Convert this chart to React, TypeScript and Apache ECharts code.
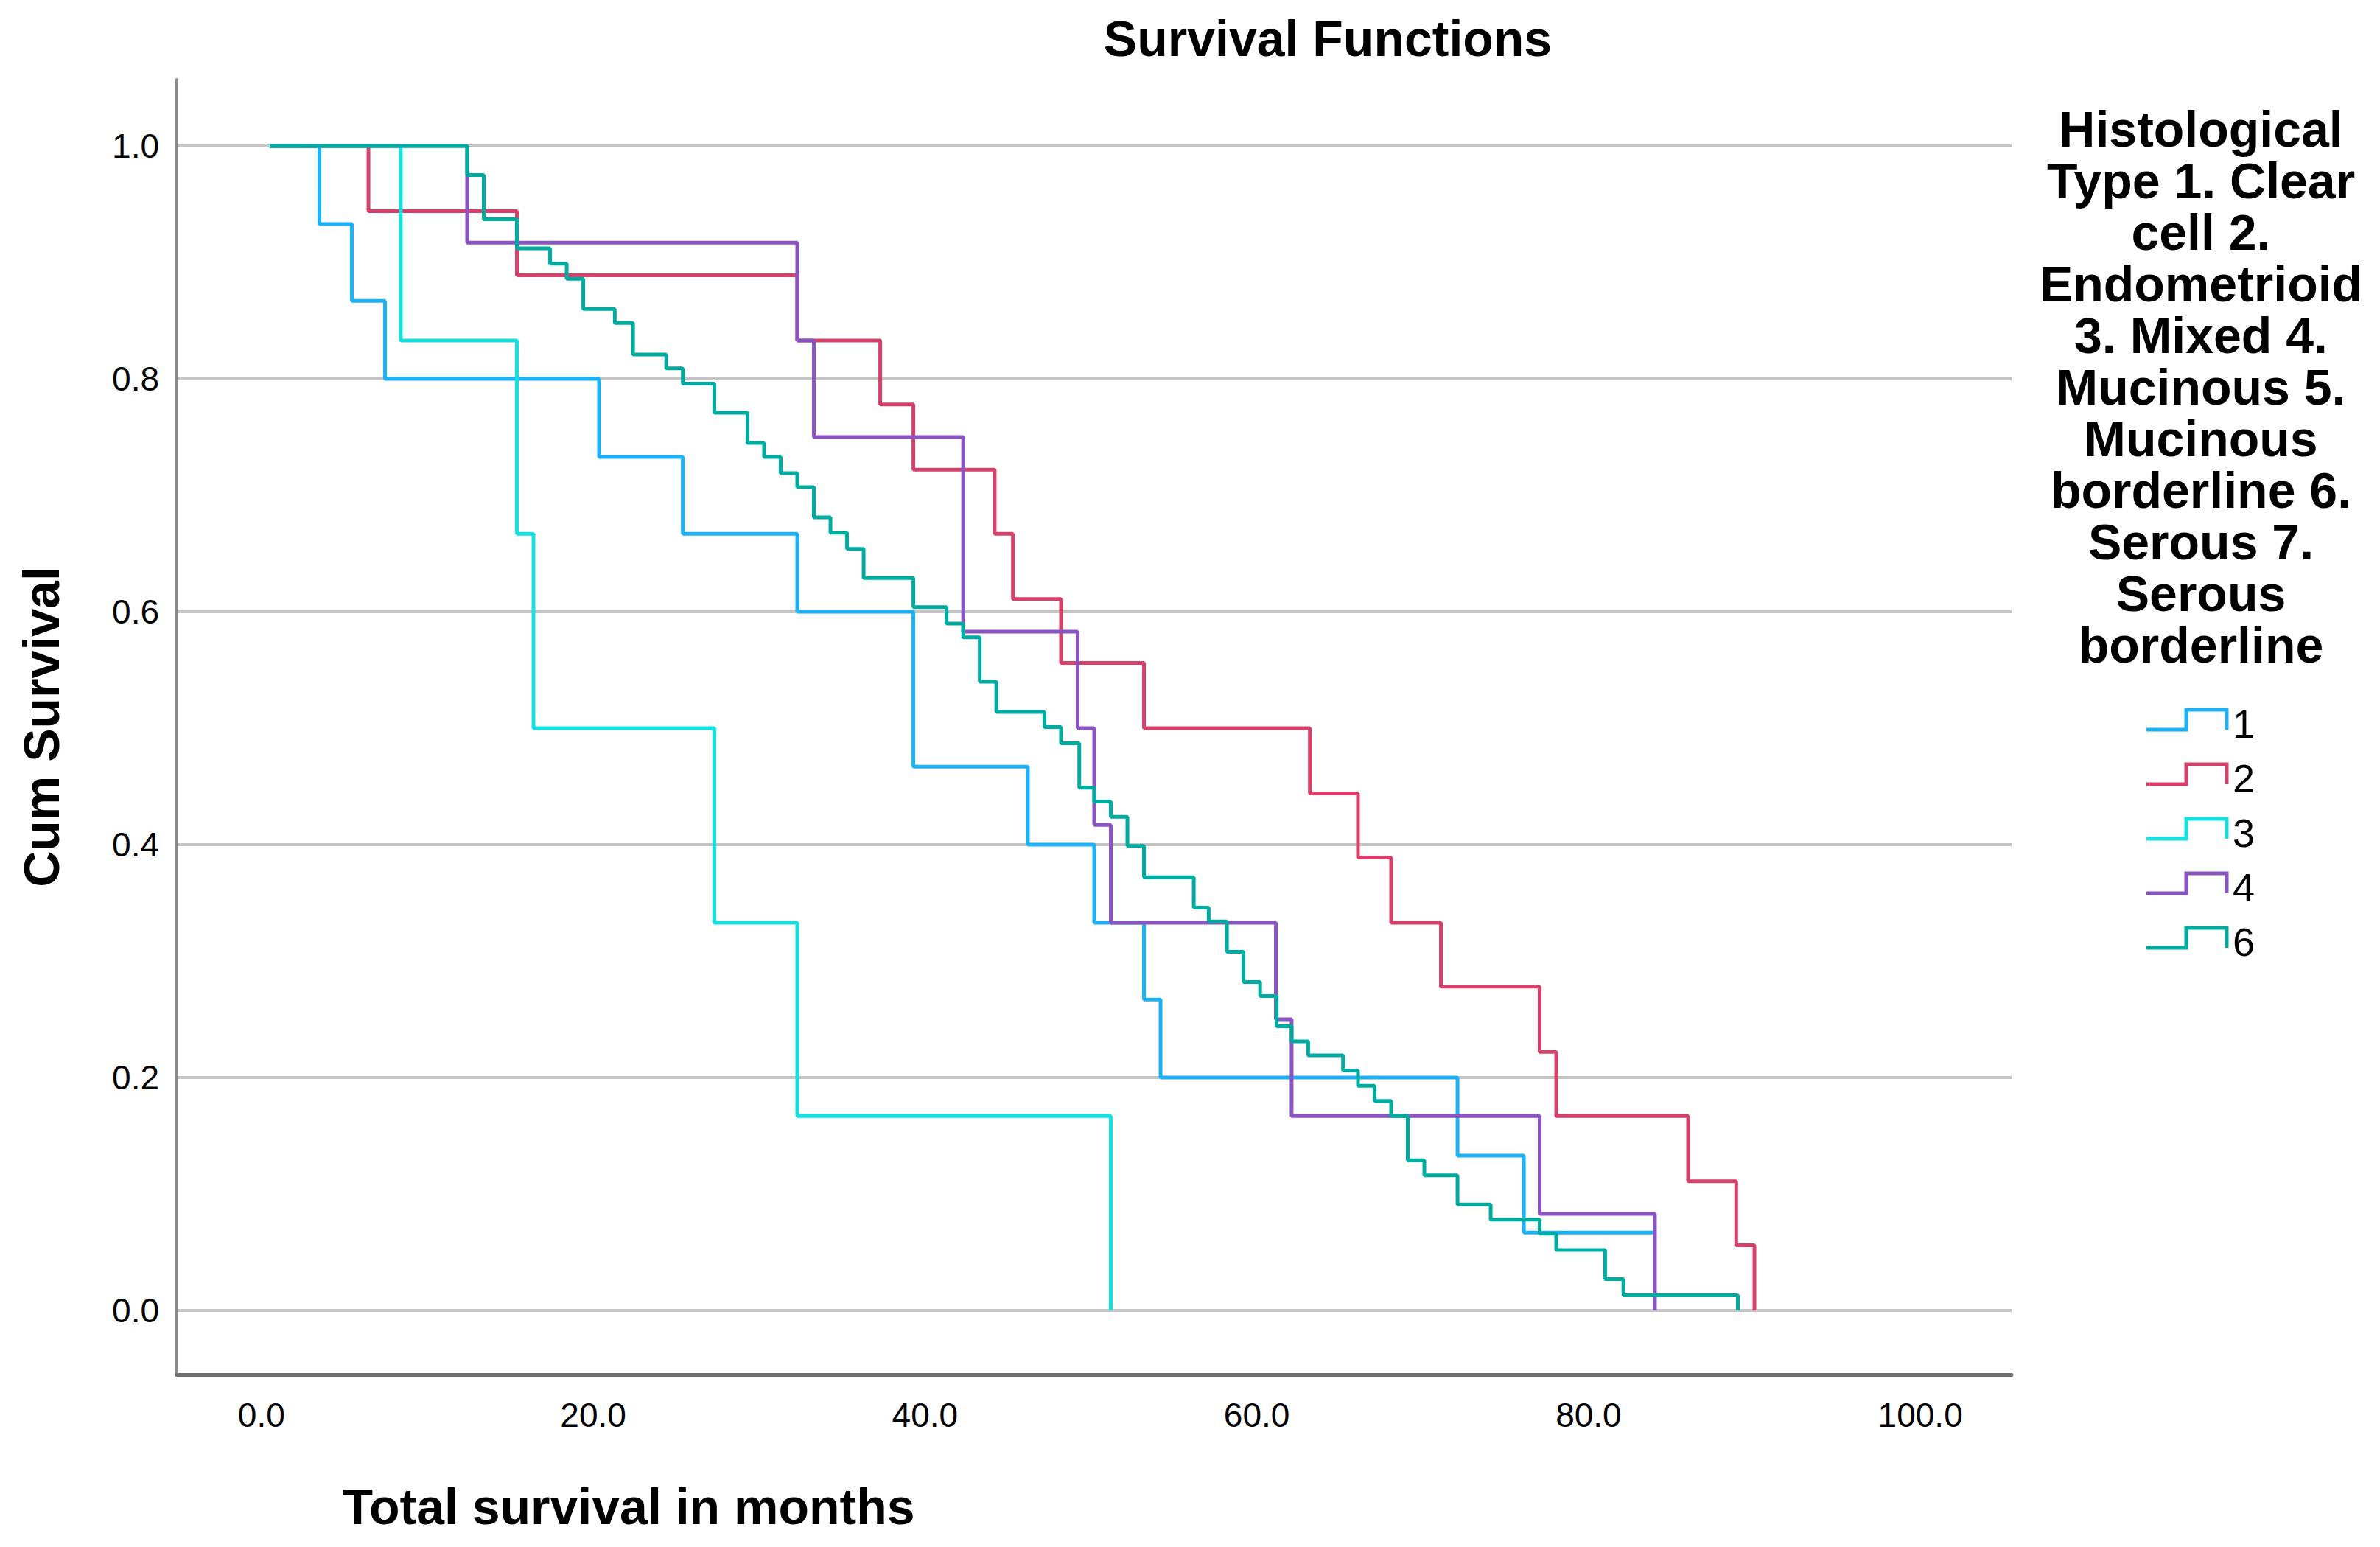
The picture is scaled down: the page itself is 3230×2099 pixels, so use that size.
import React, { useEffect, useRef } from "react";
import * as echarts from "echarts";

const groups = ["1", "2", "3", "4", "6"];
const groupColors = ["#1CB2F6", "#D6416B", "#12E1DF", "#8A55C2", "#00AB9F"];

const times1 = [0.5, 3.5, 5.45, 7.45, 20.35, 25.4, 32.3, 39.3, 46.2, 50.2, 53.2, 54.2, 72.1, 76.1, 83.9];
const surv1 = [1, 0.933, 0.867, 0.8, 0.733, 0.667, 0.6, 0.467, 0.4, 0.333, 0.267, 0.2, 0.133, 0.067, 0.067];

const times2 = [0.5, 6.45, 15.4, 32.3, 37.3, 39.3, 44.2, 45.3, 48.2, 53.2, 63.2, 66.1, 68.1, 71.1, 77.05, 78.05, 86.0, 88.9, 90.0];
const surv2 = [1, 0.944, 0.889, 0.833, 0.778, 0.722, 0.667, 0.611, 0.556, 0.5, 0.444, 0.389, 0.333, 0.278, 0.222, 0.167, 0.111, 0.056, 0];

const times3 = [0.5, 8.4, 15.4, 16.4, 27.3, 32.3, 51.2];
const surv3 = [1, 0.833, 0.667, 0.5, 0.333, 0.167, 0];

const times4 = [0.5, 12.4, 32.3, 33.3, 42.3, 49.2, 50.2, 51.2, 61.15, 62.1, 77.05, 84.0];
const surv4 = [1, 0.917, 0.833, 0.75, 0.583, 0.5, 0.417, 0.333, 0.25, 0.167, 0.083, 0];

const times6 = [0.5, 12.4, 13.4, 15.4, 17.4, 18.4, 19.4, 21.3, 22.4, 24.4, 25.4, 27.3, 29.3, 30.3, 31.3, 32.3, 33.3, 34.3, 35.3, 36.3, 39.3, 41.3, 42.3, 43.3, 44.3, 47.2, 48.2, 49.3, 50.2, 51.2, 52.2, 53.2, 56.2, 57.1, 58.2, 59.2, 60.2, 61.2, 62.1, 63.1, 65.2, 66.1, 67.1, 68.1, 69.1, 70.1, 72.1, 74.1, 77.05, 78.05, 81.0, 82.1, 89.0];
const surv6 = [1, 0.975, 0.937, 0.912, 0.899, 0.886, 0.86, 0.848, 0.821, 0.809, 0.796, 0.771, 0.745, 0.733, 0.719, 0.707, 0.681, 0.668, 0.654, 0.629, 0.604, 0.59, 0.578, 0.54, 0.514, 0.501, 0.487, 0.449, 0.437, 0.424, 0.399, 0.372, 0.346, 0.334, 0.308, 0.282, 0.27, 0.244, 0.231, 0.219, 0.206, 0.193, 0.18, 0.167, 0.129, 0.116, 0.091, 0.078, 0.066, 0.052, 0.027, 0.013, 0];

const allTimes = [times1, times2, times3, times4, times6];
const allSurv = [surv1, surv2, surv3, surv4, surv6];

const xTicks = [0, 20, 40, 60, 80, 100];
const yTicks = [0, 0.2, 0.4, 0.6, 0.8, 1.0];

const chartTitle = "Survival Functions";
const xTitle = "Total survival in months";
const yTitle = "Cum Survival";
const legendTitleLines = [
  "Histological",
  "Type 1. Clear",
  "cell 2.",
  "Endometrioid",
  "3. Mixed 4.",
  "Mucinous 5.",
  "Mucinous",
  "borderline 6.",
  "Serous 7.",
  "Serous",
  "borderline",
];

const FONT = "'Liberation Sans', Arial, Helvetica, sans-serif";

export default function App() {
  const ref = useRef<HTMLDivElement>(null);

  useEffect(() => {
    document.body.style.margin = "0";
    const el = ref.current;
    if (!el) return;
    const chart = echarts.init(el, null, { renderer: "svg" });

    const series = groups.map((g, gi) => ({
      name: g,
      type: "line",
      step: "end",
      showSymbol: false,
      symbol: "none",
      data: allTimes[gi].map((t, i) => [t, allSurv[gi][i]]),
      lineStyle: { color: groupColors[gi], width: 5 },
      itemStyle: { color: groupColors[gi] },
      z: 3,
    }));

    const legendGraphics: any[] = [];
    legendGraphics.push({
      type: "text",
      x: 2987,
      y: 140,
      style: {
        text: legendTitleLines.join("\n"),
        fill: "#000",
        font: `bold 68px ${FONT}`,
        lineHeight: 70,
        align: "center",
        verticalAlign: "top",
      },
    });
    groups.forEach((g, gi) => {
      const base = 990 + gi * 74;
      legendGraphics.push({
        type: "polyline",
        shape: {
          points: [
            [2913, base],
            [2967, base],
            [2967, base - 27],
            [3022, base - 27],
            [3022, base],
          ],
        },
        style: { stroke: groupColors[gi], lineWidth: 5, fill: "none" },
      });
      legendGraphics.push({
        type: "text",
        x: 3030,
        y: base - 8,
        style: {
          text: g,
          fill: "#000",
          font: `54px ${FONT}`,
          align: "left",
          verticalAlign: "middle",
        },
      });
    });

    chart.setOption({
      animation: false,
      backgroundColor: "#ffffff",
      grid: { left: 240, right: 500, top: 108, bottom: 234, containLabel: false },
      xAxis: {
        type: "value",
        min: -5.1,
        max: 105.5,
        name: xTitle,
        nameLocation: "middle",
        nameGap: 145,
        nameTextStyle: {
          fontSize: 68,
          fontWeight: "bold",
          fontFamily: FONT,
          color: "#000",
          padding: [0, 1264, 0, 0],
        },
        axisLine: { show: true, onZero: false, lineStyle: { color: "#6e6e6e", width: 5 } },
        axisTick: { show: false, customValues: xTicks },
        axisLabel: {
          customValues: xTicks,
          formatter: (v: number) => v.toFixed(1),
          fontSize: 46,
          fontFamily: FONT,
          color: "#000",
          margin: 32,
        },
        splitLine: { show: false },
      },
      yAxis: {
        type: "value",
        min: -0.055,
        max: 1.057,
        name: yTitle,
        nameLocation: "middle",
        nameGap: 150,
        nameTextStyle: {
          fontSize: 68,
          fontWeight: "bold",
          fontFamily: FONT,
          color: "#000",
        },
        axisLine: { show: true, onZero: false, lineStyle: { color: "#8a8a8a", width: 4 } },
        axisTick: { show: false, customValues: yTicks },
        axisLabel: {
          customValues: yTicks,
          formatter: (v: number) => v.toFixed(1),
          fontSize: 46,
          fontFamily: FONT,
          color: "#000",
          margin: 24,
        },
        splitLine: { show: true, lineStyle: { color: "#c4c4c4", width: 4 } },
      },
      graphic: [
        {
          type: "text",
          x: 1802,
          y: 52,
          style: {
            text: chartTitle,
            fill: "#000",
            font: `bold 68px ${FONT}`,
            align: "center",
            verticalAlign: "middle",
          },
        },
        ...legendGraphics,
      ],
      series,
    });

    return () => {
      chart.dispose();
    };
  }, []);

  return <div ref={ref} style={{ width: 3230, height: 2099 }} />;
}
